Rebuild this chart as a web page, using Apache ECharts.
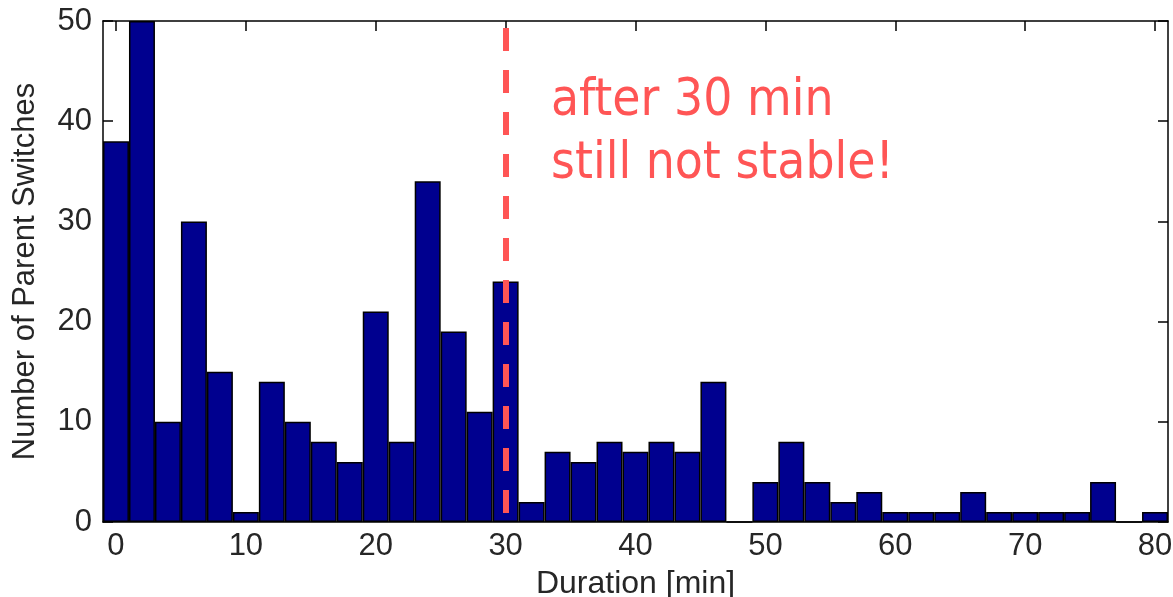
<!DOCTYPE html>
<html>
<head>
<meta charset="utf-8">
<script src="https://cdn.jsdelivr.net/npm/echarts@6/dist/echarts.min.js"></script>
<style>
html,body{margin:0;padding:0;background:#fff;}
#chart{width:1173px;height:597px;}
</style>
</head>
<body>
<div id="chart"></div>
<script>
// Histogram bin centres (minutes) and counts
const binCenters = [0,2,4,6,8,10,12,14,16,18,20,22,24,26,28,30,32,34,36,38,40,42,44,46,48,50,52,54,56,58,60,62,64,66,68,70,72,74,76,78,80];
const counts =     [38,50,10,30,15,1,14,10,8,6,21,8,34,19,11,24,2,7,6,8,7,8,7,14,0,4,8,4,2,3,1,1,1,3,1,1,1,1,4,0,1];
const xTicks = [0,10,20,30,40,50,60,70,80];
const yTicks = [0,10,20,30,40,50];
const thresholdMin = 30;
const thresholdTop = 49.3;
const annotation = ['after 30 min', 'still not stable!'];
const xName = 'Duration [min]';
const yName = 'Number of Parent Switches';

const chart = echarts.init(document.getElementById('chart'));
const labelColor = '#262626';
const fontFam = '"Liberation Sans", Arial, sans-serif';

const xCommon = {
  type: 'value', min: -1, max: 81,
  axisLine: {show: true, onZero: false, lineStyle: {color: '#000', width: 1.5}},
  axisTick: {show: true, inside: true, length: 10, customValues: xTicks, lineStyle: {color: '#000', width: 1.5}},
  splitLine: {show: false}
};
const yCommon = {
  type: 'value', min: 0, max: 50, interval: 10,
  axisLine: {show: true, onZero: false, lineStyle: {color: '#000', width: 1.5}},
  axisTick: {show: true, inside: true, length: 10, lineStyle: {color: '#000', width: 1.5}},
  splitLine: {show: false}
};

chart.setOption({
  animation: false,
  backgroundColor: '#fff',
  grid: {left: 103, right: 5, top: 21, bottom: 75, containLabel: false, outerBoundsMode: 'none'},
  xAxis: [
    Object.assign({}, xCommon, {
      position: 'bottom',
      name: xName, nameLocation: 'middle', nameGap: 46,
      nameTextStyle: {fontFamily: fontFam, fontSize: 32, color: labelColor},
      axisLabel: {show: true, customValues: xTicks, margin: 9, fontFamily: fontFam, fontSize: 31, color: labelColor}
    }),
    Object.assign({}, xCommon, {position: 'top', axisLabel: {show: false}})
  ],
  yAxis: [
    Object.assign({}, yCommon, {
      position: 'left',
      name: yName, nameLocation: 'middle', nameGap: 62,
      nameTextStyle: {fontFamily: fontFam, fontSize: 31, color: labelColor},
      axisLabel: {show: true, margin: 11, fontFamily: fontFam, fontSize: 31, color: labelColor}
    }),
    Object.assign({}, yCommon, {position: 'right', axisLabel: {show: false}})
  ],
  series: [{
    type: 'bar',
    xAxisIndex: 0, yAxisIndex: 0,
    data: binCenters.map((c, i) => [c, counts[i]]),
    barWidth: '100%',
    itemStyle: {color: '#00008F', borderColor: '#000', borderWidth: 1.5},
    markLine: {
      silent: true,
      symbol: 'none',
      label: {show: false},
      lineStyle: {color: '#FF5555', width: 6, type: [23, 19], cap: 'butt'},
      data: [[{coord: [thresholdMin, thresholdTop]}, {coord: [thresholdMin, 0]}]],
      z: 10
    }
  }],
  graphic: [{
    type: 'text',
    left: 551, top: 70,
    style: {
      text: annotation.join('\n'),
      fill: '#FF5555',
      font: '51px "DejaVu Sans Condensed", "DejaVu Sans", sans-serif',
      lineHeight: 63
    },
    z: 20
  }]
});
</script>
</body>
</html>
